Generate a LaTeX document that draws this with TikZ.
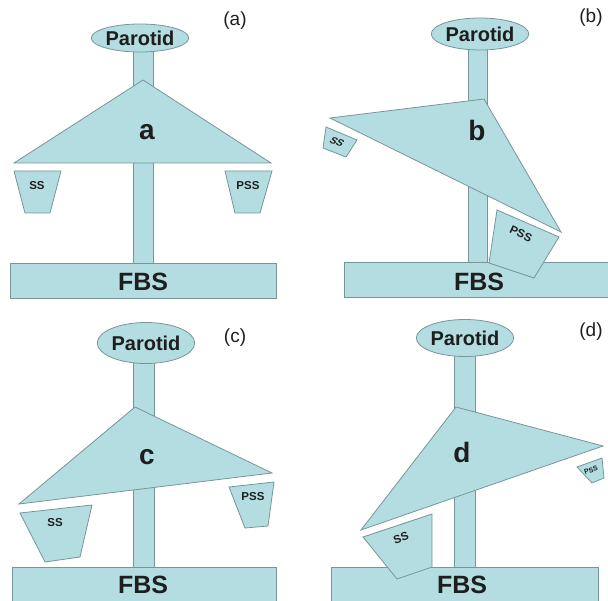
\documentclass[tikz,border=0pt]{standalone}
\usepackage{fontspec}
\setmainfont{Liberation Sans}
\usetikzlibrary{shapes.geometric}
\definecolor{fillb}{RGB}{180,221,225}
\definecolor{edgeb}{RGB}{120,150,154}
\definecolor{ink}{RGB}{30,30,30}
\tikzset{
  part/.style={fill=fillb,draw=edgeb,line width=0.8pt,line join=miter},
  gland/.style={ellipse,fill=fillb,draw=edgeb,line width=0.8pt,inner sep=0pt,text=ink,font=\bfseries\fontsize{20}{20}\selectfont},
  big/.style={text=ink,font=\bfseries\fontsize{28}{28}\selectfont},
  base/.style={text=ink,font=\bfseries\fontsize{25}{25}\selectfont},
  small/.style={text=ink,inner sep=1pt,font=\bfseries\fontsize{11.5}{11.5}\selectfont},
  tag/.style={text=ink,font=\fontsize{19}{19}\selectfont}
}
\begin{document}
\begin{tikzpicture}[x=1pt,y=-1pt]
\useasboundingbox (0,0) rectangle (608,601);
% ---------- (a)
\draw[part] (133,38) rectangle (153,263);
\draw[part] (10,263) rectangle (276,298);
\draw[part] (143,80) -- (271,163) -- (14,163) -- cycle;
\draw[part] (14,171) -- (61,171) -- (50,213) -- (25,213) -- cycle;
\draw[part] (225,171) -- (272,171) -- (260,213) -- (235,213) -- cycle;
\node[gland,minimum width=84pt,minimum height=28pt] (pa) at (140,38) {Parotid};
\node[big] (la) at (147,132) {a};
\node[base] (fa) at (143,282) {FBS};
\node[small] (sa) at (37,186) {SS};
\node[small] (psa) at (248,186) {PSS};
\node[tag] (ta) at (235,21) {(a)};
% ---------- (b)
\draw[part] (468,34) rectangle (487,262);
\draw[part] (344,262) rectangle (608,297);
\draw[part] (484,99) -- (561,232) -- (330,118) -- cycle;
\draw[part] (326,127) -- (357,140) -- (346,157) -- (323,148) -- cycle;
\draw[part] (497,210) -- (559,237) -- (534,278) -- (489,263) -- cycle;
\node[gland,minimum width=95pt,minimum height=32pt] (pb) at (480,34) {Parotid};
\node[big] (lb) at (477,130) {b};
\node[base] (fb) at (479,282) {FBS};
\node[small,font=\bfseries\fontsize{10}{10}\selectfont,rotate=-22,xslant=0.3] (sb) at (337,142) {SS};
\node[small,rotate=-25] (psb) at (521,234) {PSS};
\node[tag] (tb) at (591,18) {(b)};
% ---------- (c)
\draw[part] (133,343) rectangle (154,567);
\draw[part] (12,567) rectangle (276,601);
\draw[part] (135,407) -- (272,473) -- (19,504) -- cycle;
\draw[part] (20,513) -- (92,505) -- (80,557) -- (45,562) -- cycle;
\draw[part] (229,487) -- (274,482) -- (268,526) -- (245,528) -- cycle;
\node[gland,minimum width=92pt,minimum height=41pt] (pc) at (146,343) {Parotid};
\node[big] (lc) at (147,457) {c};
\node[base] (fc) at (143,585) {FBS};
\node[small] (sc) at (55,523) {SS};
\node[small] (psc) at (253,497) {PSS};
\node[tag] (tc) at (235,338) {(c)};
% ---------- (d)
\draw[part] (454,338) rectangle (475,567);
\draw[part] (331,567) rectangle (598,601);
\draw[part] (456,407) -- (603,446) -- (361,530) -- cycle;
\draw[part] (363,537) -- (432,514) -- (432,567) -- (397,579) -- cycle;
\draw[part] (577,467) -- (602,458) -- (604,478) -- (592,483) -- cycle;
\node[gland,minimum width=93pt,minimum height=37pt] (pd) at (465,338) {Parotid};
\node[big] (ld) at (462,452) {d};
\node[base] (fd) at (462,585) {FBS};
\node[small,rotate=20] (sd) at (401,538) {SS};
\node[small,font=\bfseries\fontsize{7}{7}\selectfont,rotate=18] (psd) at (591,470) {PSS};
\node[tag] (td) at (591,332) {(d)};
\end{tikzpicture}
\end{document}
